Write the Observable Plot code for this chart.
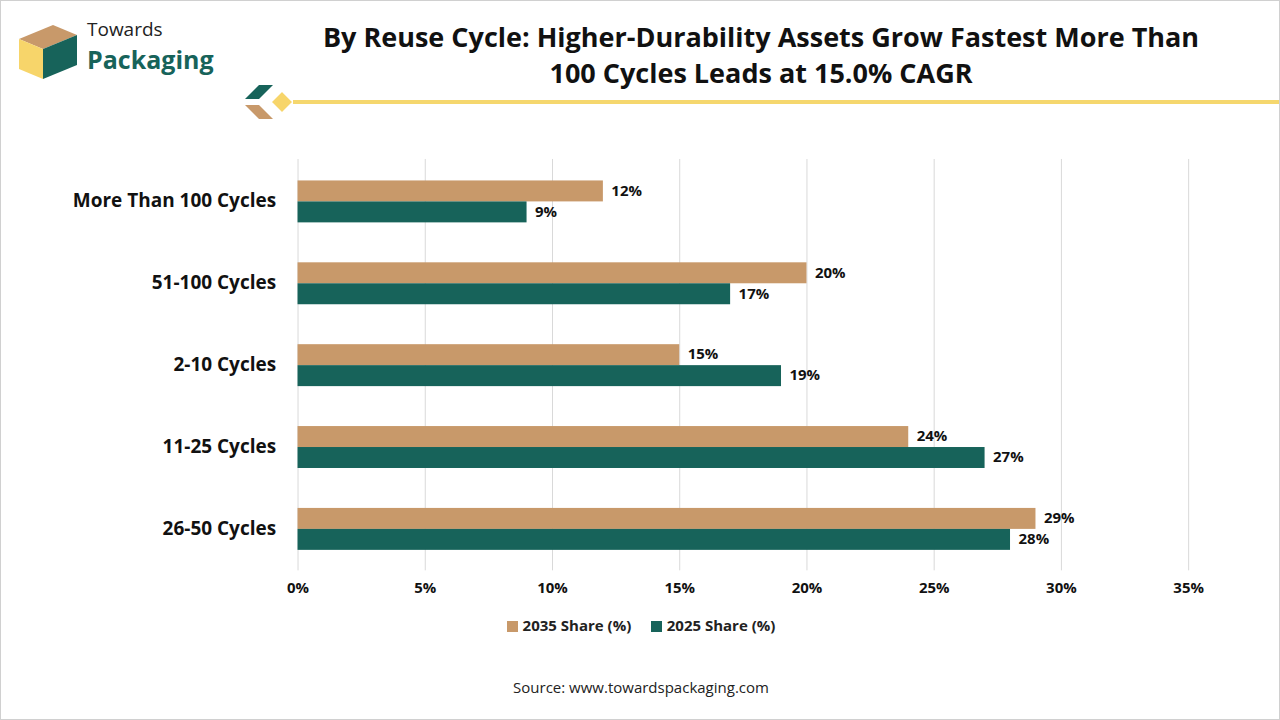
<!DOCTYPE html>
<html><head><meta charset="utf-8">
<script src="https://cdn.jsdelivr.net/npm/d3@7"></script>
<script src="https://cdn.jsdelivr.net/npm/@observablehq/plot@0.6"></script>
<style>
body{margin:0;background:#fff;font-family:"Open Sans",sans-serif;}
#page{position:relative;width:1278px;height:718px;border:1px solid #d0d0d0;overflow:hidden;}
#title{position:absolute;left:290px;width:940px;top:18px;text-align:center;font-weight:700;font-size:27px;line-height:36px;color:#111;}
#chart{position:absolute;left:0;top:140px;}
#legend{position:absolute;top:614px;left:0;width:1280px;text-align:center;font-size:15px;font-weight:700;color:#222;}
#legend span.sw{display:inline-block;width:11px;height:11px;margin-right:5px;vertical-align:-1px;}
#source{position:absolute;top:676px;width:1280px;text-align:center;font-size:15px;color:#222;}
</style></head><body>
<div id="page">
<svg style="position:absolute;left:0;top:0" width="300" height="130">
 <polygon points="18,38 52,24 76,34 42,48" fill="#c8996a"/>
 <polygon points="18,38 42,48 42,78 18,68" fill="#f7d56a"/>
 <polygon points="42,48 76,34 76,64 42,78" fill="#17635a"/>
 <text x="86" y="35" font-size="19" fill="#222" font-family="Open Sans">Towards</text>
 <text x="86" y="68" font-size="25" font-weight="700" fill="#17635a" font-family="Open Sans">Packaging</text>
 <polygon points="244,98 258,84 272,84 258,98" fill="#17635a"/>
 <polygon points="244,104 258,104 272,118 258,118" fill="#c8996a"/>
 <polygon points="270,101 281,90 292,101 281,112" fill="#f7d56a" stroke="#fff" stroke-width="1.5"/>
</svg>
<svg style="position:absolute;left:292px;top:99px" width="990" height="5"><rect width="990" height="4" fill="#f5d76e"/></svg>
<div id="title">By Reuse Cycle: Higher-Durability Assets Grow Fastest More Than<br>100 Cycles Leads at 15.0% CAGR</div>
<div id="chart"></div>
<div id="legend"><span class="sw" style="background:#c8996a"></span>2035 Share (%)&nbsp;&nbsp;&nbsp;&nbsp;&nbsp;<span class="sw" style="background:#17635a"></span>2025 Share (%)</div>
<div id="source">Source: www.towardspackaging.com</div>
</div>
<script>
const categories = ["More Than 100 Cycles","51-100 Cycles","2-10 Cycles","11-25 Cycles","26-50 Cycles"];
const share2035 = [12,20,15,24,29];
const share2025 = [9,17,19,27,28];
const xTicks = [0,5,10,15,20,25,30,35];
const tan="#c8996a", green="#17635a";
const d35 = categories.map((c,i)=>({c,v:share2035[i]}));
const d25 = categories.map((c,i)=>({c,v:share2025[i]}));
const chart = Plot.plot({
  width:1280, height:460,
  marginLeft:297, marginRight:91, marginTop:18, marginBottom:30,
  style:{fontFamily:"Open Sans",color:"#222"},
  x:{domain:[0,35], ticks:xTicks, tickFormat:d=>d+"%", grid:false, label:null, tickSize:0, tickPadding:10},
  y:{domain:categories, padding:0, label:null, tickSize:0, tickPadding:20},
  marks:[
    Plot.ruleX(xTicks,{stroke:"#d9d9d9"}),
    Plot.barX(d35,{y:"c",x:"v",fill:tan,insetTop:20.5,insetBottom:40.5}),
    Plot.barX(d25,{y:"c",x:"v",fill:green,insetTop:41.5,insetBottom:19.5}),
    Plot.text(d35,{y:"c",x:"v",text:d=>d.v+"%",dx:8,dy:-10.5,textAnchor:"start",fontSize:15,fontWeight:700,fill:"#111"}),
    Plot.text(d25,{y:"c",x:"v",text:d=>d.v+"%",dx:8,dy:10.5,textAnchor:"start",fontSize:15,fontWeight:700,fill:"#111"}),
    Plot.axisX({ticks:xTicks,tickFormat:d=>d+"%",tickSize:0,tickPadding:12,fontSize:15,fontWeight:700,label:null}),
    Plot.axisY({tickSize:0,tickPadding:22,fontSize:19,fontWeight:700,label:null})
  ]
});
d3.select(chart).selectAll("text").attr("fill","#111");
document.getElementById("chart").appendChild(chart);
</script>
</body></html>
